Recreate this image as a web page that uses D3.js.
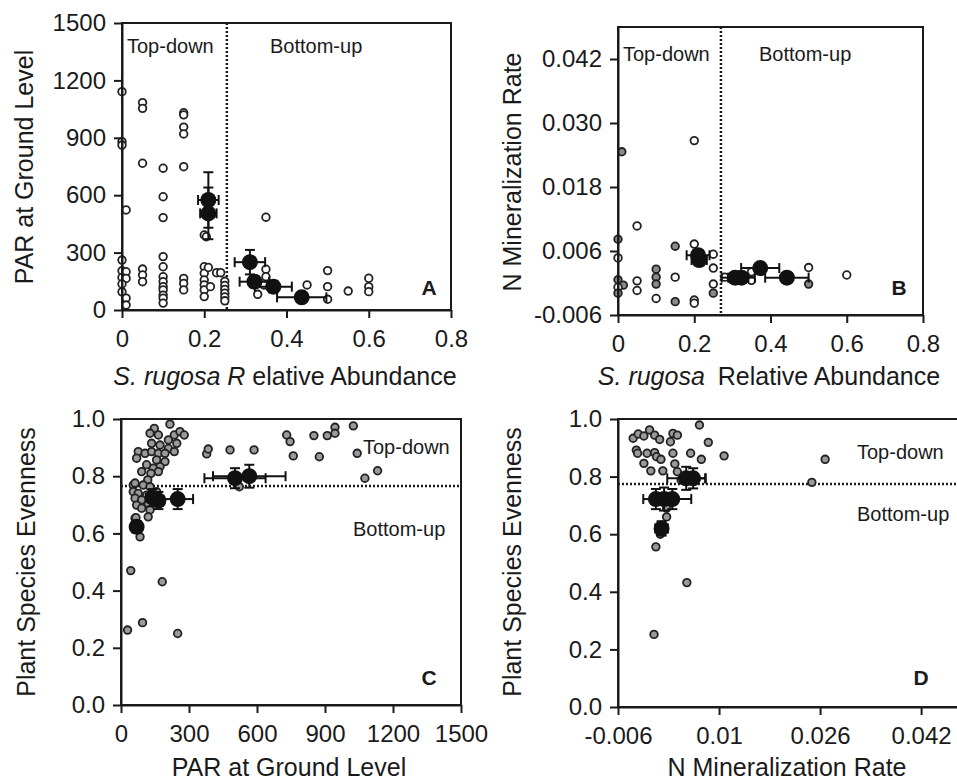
<!DOCTYPE html>
<meta charset="utf-8">
<title>Top-down vs bottom-up</title>
<style>
  body { margin: 0; background: #fff; }
  svg { display: block; font-family: "Liberation Sans", Arial, sans-serif; }
  .axis path, .axis line { stroke: #1a1a1a; stroke-width: 2; }
  .axis text { font-size: 24px; fill: #1a1a1a; font-family: "Liberation Sans", Arial, sans-serif; }
</style>
<body>
<script src="https://cdn.jsdelivr.net/npm/d3@7"></script>
<script>
// ---- data -------------------------------------------------------------
// panel A : S. rugosa abundance vs PAR
var aAbund = [0,0,0,0.01,0,0,0.01,0,0.01,0,0,0.01,0.01,
  0.05,0.05,0.05,0.05,0.05,0.05,
  0.1,0.1,0.1,0.1,0.1,0.1,0.1,0.1,0.1,0.1,0.1,0.1,
  0.15,0.15,0.15,0.15,0.15,0.15,0.15,0.15,
  0.2,0.2,0.2,0.2,0.2,0.2,0.2,0.21,0.215,0.23,0.24,0.205,
  0.25,0.25,0.25,0.25,0.25,0.25,
  0.35,0.35,0.35,0.345,0.33,0.45,0.5,0.5,0.5,0.55,0.6,0.6,0.6];
var aPar = [1141,880,862,523,261,205,200,170,165,136,95,62,26,
  1084,1054,767,214,183,148,
  741,592,483,279,226,174,148,122,105,78,62,36,
  1031,1020,956,920,749,165,139,105,
  392,226,192,157,131,105,70,222,122,195,195,383,
  150,128,108,88,68,48,
  485,213,174,131,82,131,206,122,56,99,166,122,96];
var aMeanAbund    = [0.21, 0.21, 0.311, 0.322, 0.368, 0.437];
var aMeanPar      = [575, 505, 250, 148, 122, 66];
var aMeanAbundErr = [0.025, 0.02, 0.037, 0.036, 0.045, 0.06];
var aMeanParErr   = [145, 135, 64, 30, 30, 12];
var aCut = 0.255;

// panel B : S. rugosa abundance vs N mineralization
var bAbund = [0.01,0.2,0.05,0,0.15,0.2,0,0,0.014,0,0,0.05,0.05,0.1,0.1,0.1,0.1,0.15,0.15,0.2,0.2,
  0.25,0.25,0.25,0.25,0.28,0.35,0.35,0.5,0.5,0.45,0.6];
var bNmin = [0.0246,0.0267,0.0107,0.0082,0.0069,0.0073,0.0047,0.0006,-0.0004,-0.0008,-0.0019,0.0004,
  -0.0014,0.0026,0.0011,-0.0002,-0.0029,0.0011,-0.0035,-0.0032,-0.0038,0.0054,0.0028,-0.0002,-0.0019,
  0.0011,0.0021,0.0005,0.0029,-0.0002,0.0013,0.0015];
var bShade = [1,0,0,1,1,0,0,1,1,0,1,0,0,1,1,1,0,0,1,0,0,0,0,0,1,0,0,0,0,1,0,0];
var bMeanAbund    = [0.21, 0.213, 0.307, 0.324, 0.373, 0.443];
var bMeanNmin     = [0.0052, 0.0043, 0.001, 0.001, 0.0028, 0.001];
var bMeanAbundErr = [0.03, 0.02, 0.035, 0.035, 0.05, 0.057];
var bMeanNminErr  = [0.001, 0.001, 0.0005, 0.0005, 0.0006, 0.0004];
var bCut = 0.27;

// panel C : PAR vs evenness
var cPar = [216,147,128,165,235,260,279,209,135,172,246,209,76,106,135,165,194,235,69,157,194,172,142,165,
  132,118,54,98,128,157,54,76,113,62,91,120,69,91,128,120,62,84,
  62,91,113,66,
  29,43,95,182,250,378,385,481,587,522,731,746,760,851,875,910,944,944,1025,1042,1076,1132];
var cEven = [0.982,0.967,0.95,0.944,0.944,0.956,0.944,0.927,0.915,0.909,0.915,0.897,0.886,0.88,0.886,0.88,
  0.88,0.886,0.863,0.857,0.851,0.833,0.828,0.816,0.81,0.787,0.769,0.769,0.763,0.746,0.746,0.74,0.734,
  0.723,0.717,0.705,0.699,0.688,0.682,0.658,0.653,0.588,
  0.776,0.816,0.84,0.655,
  0.262,0.47,0.288,0.431,0.25,0.878,0.895,0.892,0.892,0.763,0.944,0.921,0.871,0.942,0.868,0.942,0.971,
  0.95,0.976,0.88,0.793,0.819];
var cMeanPar     = [69, 140, 165, 250, 503, 566];
var cMeanEven    = [0.623, 0.725, 0.715, 0.72, 0.793, 0.80];
var cMeanParErr  = [15, 30, 25, 68, 135, 160];
var cMeanEvenErr = [0.02, 0.03, 0.03, 0.035, 0.035, 0.04];
var cCut = 0.766;

// panel D : N mineralization vs evenness
var dNmin = [-0.0036,-0.0028,-0.0019,-0.001,-0.0002,0.0006,0.0027,0.0034,0.0023,0.0069,0.0083,-0.0031,
  -0.0029,-0.0014,-0.0002,0.0001,0.0008,0.0027,0.0055,0.0072,0.0108,-0.0019,-0.0008,0.0011,0.003,0.0034,
  0.004,-0.0003,0.0,0.0049,0.0247,0.0268,0.001,0.0017,0.0017,0.0007];
var dEven = [0.933,0.948,0.941,0.962,0.944,0.929,0.95,0.944,0.921,0.979,0.919,0.892,0.881,0.881,0.883,
  0.869,0.86,0.881,0.881,0.86,0.872,0.846,0.82,0.82,0.844,0.817,0.788,0.252,0.556,0.432,0.78,0.86,
  0.73,0.69,0.66,0.6];
var dMeanNmin     = [0.0048, 0.0059, 0.0, 0.0013, 0.0026, 0.0009];
var dMeanEven     = [0.794, 0.794, 0.722, 0.722, 0.722, 0.62];
var dMeanNminErr  = [0.003, 0.002, 0.002, 0.002, 0.003, 0.001];
var dMeanEvenErr  = [0.04, 0.035, 0.035, 0.04, 0.035, 0.025];
var dCut = 0.774;

// ticks
var abundTicks = [0, 0.2, 0.4, 0.6, 0.8];
var abundLabels = ["0", "0.2", "0.4", "0.6", "0.8"];
var parTicks = [0, 300, 600, 900, 1200, 1500];
var nminYTicks = [-0.006, 0.006, 0.018, 0.030, 0.042];
var nminYLabels = ["-0.006", "0.006", "0.018", "0.030", "0.042"];
var nminXTicks = [-0.006, 0.01, 0.026, 0.042];
var nminXLabels = ["-0.006", "0.01", "0.026", "0.042"];
var evenTicks = [0, 0.2, 0.4, 0.6, 0.8, 1.0];
var evenLabels = ["0.0", "0.2", "0.4", "0.6", "0.8", "1.0"];

//==================================================================
var width = 957, height = 781;
var ink = "#1a1a1a";

var svg = d3.select("body").append("svg")
    .attr("width", width)
    .attr("height", height);

function panel(p) {
  var x = d3.scaleLinear().domain(p.xDomain).range([p.left, p.right]);
  var y = d3.scaleLinear().domain(p.yDomain).range([p.bottom, p.top]);
  var g = svg.append("g");

  // divider line (dotted)
  if (p.vCut != null) {
    g.append("line")
      .attr("x1", x(p.vCut)).attr("x2", x(p.vCut))
      .attr("y1", p.top).attr("y2", p.bottom)
      .style("stroke", ink).style("stroke-width", 2.5).style("stroke-dasharray", "2,2");
  } else {
    g.append("line")
      .attr("x1", p.left).attr("x2", p.right)
      .attr("y1", y(p.hCut)).attr("y2", y(p.hCut))
      .style("stroke", ink).style("stroke-width", 2.5).style("stroke-dasharray", "2,2");
  }

  // points
  g.selectAll(".pt")
    .data(p.xs.map(function(d, i) { return i; }))
    .enter().append("circle")
      .attr("cx", function(i) { return x(p.xs[i]); })
      .attr("cy", function(i) { return y(p.ys[i]); })
      .attr("r", 3.8)
      .style("fill", function(i) { return p.shade ? (p.shade[i] ? "#8a8a8a" : "#fff") : p.fill; })
      .style("stroke", "#222")
      .style("stroke-width", 1.8);

  // means with error bars
  var idx = p.mx.map(function(d, i) { return i; });
  var cap = 5;
  idx.forEach(function(i) {
    var cx = x(p.mx[i]), cy = y(p.my[i]);
    var x0 = x(p.mx[i] - p.mxe[i]), x1 = x(p.mx[i] + p.mxe[i]);
    var y0 = y(p.my[i] - p.mye[i]), y1 = y(p.my[i] + p.mye[i]);
    var segs = [
      [x0, cy, x1, cy], [x0, cy - cap, x0, cy + cap], [x1, cy - cap, x1, cy + cap],
      [cx, y0, cx, y1], [cx - cap, y0, cx + cap, y0], [cx - cap, y1, cx + cap, y1]
    ];
    g.selectAll(null).data(segs).enter().append("line")
      .attr("x1", function(s) { return s[0]; }).attr("y1", function(s) { return s[1]; })
      .attr("x2", function(s) { return s[2]; }).attr("y2", function(s) { return s[3]; })
      .style("stroke", "#111").style("stroke-width", 2);
  });
  g.selectAll(".mean")
    .data(idx)
    .enter().append("circle")
      .attr("cx", function(i) { return x(p.mx[i]); })
      .attr("cy", function(i) { return y(p.my[i]); })
      .attr("r", 8)
      .style("fill", "#111");

  // frame
  g.append("rect")
    .attr("x", p.left).attr("y", p.top)
    .attr("width", p.right - p.left).attr("height", p.bottom - p.top)
    .style("fill", "none").style("stroke", ink).style("stroke-width", 2);

  // axes
  g.append("g").attr("class", "axis")
    .attr("transform", "translate(0," + p.bottom + ")")
    .call(d3.axisBottom(x).tickValues(p.xTicks)
      .tickFormat(function(d, i) { return p.xLabels[i]; })
      .tickSize(8).tickSizeOuter(0).tickPadding(12));
  g.append("g").attr("class", "axis")
    .attr("transform", "translate(" + p.left + ",0)")
    .call(d3.axisLeft(y).tickValues(p.yTicks)
      .tickFormat(function(d, i) { return p.yLabels[i]; })
      .tickSize(8).tickSizeOuter(0).tickPadding(8));

  // region texts
  p.notes.forEach(function(n) {
    g.append("text")
      .attr("x", n[0]).attr("y", n[1])
      .style("font-size", "20px").style("fill", ink)
      .text(n[2]);
  });
  g.append("text")
    .attr("x", p.letter[0]).attr("y", p.letter[1])
    .attr("text-anchor", "middle")
    .style("font-size", "21px").style("font-weight", "bold").style("fill", ink)
    .text(p.letter[2]);

  // y title
  g.append("text")
    .attr("transform", "translate(" + p.yTitle[0] + "," + p.yTitle[1] + ") rotate(-90)")
    .attr("text-anchor", "middle")
    .style("font-size", "25px").style("fill", ink)
    .text(p.yTitle[2]);

  // x title
  var xt = g.append("text")
    .attr("x", p.xTitle[0]).attr("y", p.xTitle[1])
    .attr("text-anchor", "middle")
    .style("font-size", "25px").style("fill", ink);
  p.xTitle[2].forEach(function(part) {
    xt.append("tspan")
      .attr("dx", part.dx || 0)
      .style("font-style", part.it ? "italic" : "normal")
      .text(part.t);
  });
}

panel({
  left: 122, right: 451, top: 23, bottom: 310,
  xDomain: [0, 0.8], yDomain: [0, 1500],
  xTicks: abundTicks, xLabels: abundLabels,
  yTicks: parTicks, yLabels: parTicks.map(String),
  vCut: aCut,
  xs: aAbund, ys: aPar, fill: "#fff",
  mx: aMeanAbund, my: aMeanPar, mxe: aMeanAbundErr, mye: aMeanParErr,
  notes: [[127, 53, "Top-down"], [270, 53, "Bottom-up"]],
  letter: [429, 295, "A"],
  yTitle: [33, 167, "PAR at Ground Level"],
  xTitle: [285, 385, [{t: "S. rugosa R", it: true}, {t: " elative Abundance"}]]
});

panel({
  left: 618, right: 923, top: 27, bottom: 315,
  xDomain: [0, 0.8], yDomain: [-0.006, 0.048],
  xTicks: abundTicks, xLabels: abundLabels,
  yTicks: nminYTicks, yLabels: nminYLabels,
  vCut: bCut,
  xs: bAbund, ys: bNmin, shade: bShade,
  mx: bMeanAbund, my: bMeanNmin, mxe: bMeanAbundErr, mye: bMeanNminErr,
  notes: [[623, 61, "Top-down"], [759, 61, "Bottom-up"]],
  letter: [899, 295, "B"],
  yTitle: [521, 172, "N Mineralization Rate"],
  xTitle: [769, 385, [{t: "S. rugosa", it: true}, {t: " Relative Abundance", dx: 6}]]
});

panel({
  left: 121, right: 461, top: 419, bottom: 705,
  xDomain: [0, 1500], yDomain: [0, 1],
  xTicks: parTicks, xLabels: parTicks.map(String),
  yTicks: evenTicks, yLabels: evenLabels,
  hCut: cCut,
  xs: cPar, ys: cEven, fill: "#9a9a9a",
  mx: cMeanPar, my: cMeanEven, mxe: cMeanParErr, mye: cMeanEvenErr,
  notes: [[363, 454, "Top-down"], [353, 536, "Bottom-up"]],
  letter: [429, 685, "C"],
  yTitle: [35, 562, "Plant Species Evenness"],
  xTitle: [289, 776, [{t: "PAR at Ground Level"}]]
});

panel({
  left: 618, right: 959, top: 419, bottom: 707,
  xDomain: [-0.006, 0.048], yDomain: [0, 1],
  xTicks: nminXTicks, xLabels: nminXLabels,
  yTicks: evenTicks, yLabels: evenLabels,
  hCut: dCut,
  xs: dNmin, ys: dEven, fill: "#9a9a9a",
  mx: dMeanNmin, my: dMeanEven, mxe: dMeanNminErr, mye: dMeanEvenErr,
  notes: [[857, 459, "Top-down"], [857, 521, "Bottom-up"]],
  letter: [921, 685, "D"],
  yTitle: [521, 562, "Plant Species Evenness"],
  xTitle: [787, 776, [{t: "N Mineralization Rate"}]]
});
</script>
